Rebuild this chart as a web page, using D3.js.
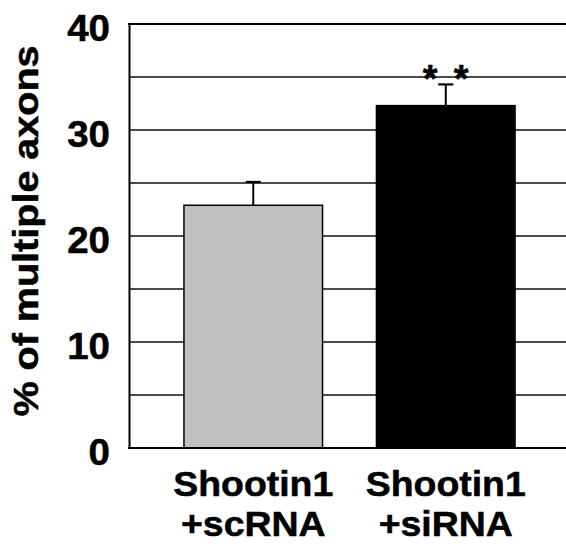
<!DOCTYPE html>
<html>
<head>
<meta charset="utf-8">
<script src="https://cdn.jsdelivr.net/npm/d3@7"></script>
<style>
  body { margin: 0; background: #fff; }
  text { font-family: "Liberation Sans", Arial, sans-serif; font-weight: bold; fill: #000; stroke: #000; stroke-width: 0.5px; }
</style>
</head>
<body>
<div id="chart"></div>
<script>
// data
let groups = ["Shootin1\n+scRNA", "Shootin1\n+siRNA"];
let values = [22.9, 32.3];
let errors = [2.2, 2.0];
let barColors = ["#c0c0c0", "#000000"];
let sigLabels = ["", "* *"];
let yTicks = [0, 10, 20, 30, 40];
let gridTicks = [5, 10, 15, 20, 25, 30, 35];

let width = 566, height = 547;
let margin = {top: 24, right: 0, bottom: 99, left: 129};

let svg = d3.select("#chart").append("svg")
    .attr("width", width)
    .attr("height", height);

let y = d3.scaleLinear()
    .domain([0, 40])
    .range([height - margin.bottom, margin.top]);

let x = d3.scaleBand()
    .domain(groups)
    .range([157, 542])
    .paddingInner(0.28)
    .paddingOuter(0.14);

// gridlines
svg.append("g")
    .selectAll("line")
    .data(gridTicks)
    .enter().append("line")
    .attr("x1", margin.left)
    .attr("x2", width)
    .attr("y1", d => y(d))
    .attr("y2", d => y(d))
    .attr("stroke", "#111")
    .attr("stroke-width", 1.3);

// top line at 40
svg.append("line")
    .attr("x1", margin.left - 1)
    .attr("x2", width)
    .attr("y1", y(40))
    .attr("y2", y(40))
    .attr("stroke", "#000")
    .attr("stroke-width", 2);

// bars
svg.selectAll(".bar")
    .data(values)
    .enter().append("rect")
    .attr("class", "bar")
    .attr("x", (d, i) => x(groups[i]))
    .attr("y", d => y(d))
    .attr("width", x.bandwidth())
    .attr("height", d => y(0) - y(d))
    .attr("fill", (d, i) => barColors[i])
    .attr("stroke", "#000")
    .attr("stroke-width", 1.5);

// error bars (upper only)
let errG = svg.append("g");
values.forEach((v, i) => {
    let cx = x(groups[i]) + x.bandwidth() / 2;
    errG.append("line")
        .attr("x1", cx).attr("x2", cx)
        .attr("y1", y(v)).attr("y2", y(v + errors[i]))
        .attr("stroke", "#000").attr("stroke-width", 2);
    errG.append("line")
        .attr("x1", cx - 7.5).attr("x2", cx + 7.5)
        .attr("y1", y(v + errors[i])).attr("y2", y(v + errors[i]))
        .attr("stroke", "#000").attr("stroke-width", 2.2);
});

// significance stars
sigLabels.forEach((s, i) => {
    if (!s) return;
    let cx = x(groups[i]) + x.bandwidth() / 2;
    s.split(" ").forEach((star, k, arr) => {
        svg.append("text")
            .attr("x", cx + (k - (arr.length - 1) / 2) * 31)
            .attr("y", y(values[i] + errors[i]) + 8)
            .attr("text-anchor", "middle")
            .style("font-size", "38px")
            .text(star);
    });
});

// y axis
let yAxis = svg.append("g")
    .attr("transform", `translate(${margin.left}, 0)`)
    .call(d3.axisLeft(y).tickValues(yTicks).tickSize(0).tickPadding(0));
yAxis.select(".domain")
    .attr("stroke", "#000")
    .attr("stroke-width", 2);
yAxis.selectAll("text")
    .attr("x", 0)
    .attr("dy", null)
    .attr("transform", "translate(-19, 16) scale(1.07, 1)")
    .style("font-size", "36px")
    .style("font-family", "'Liberation Sans', Arial, sans-serif");

// x axis baseline
svg.append("line")
    .attr("x1", margin.left - 1)
    .attr("x2", width)
    .attr("y1", y(0))
    .attr("y2", y(0))
    .attr("stroke", "#000")
    .attr("stroke-width", 2);

// x labels
groups.forEach(g => {
    let cx = x(g) + x.bandwidth() / 2;
    g.split("\n").forEach((line, k) => {
        svg.append("text")
            .attr("transform", `translate(${cx}, ${496 + k * 40}) scale(1.07, 1)`)
            .attr("text-anchor", "middle")
            .style("font-size", "35px")
            .text(line);
    });
});

// y label
svg.append("text")
    .attr("transform", "translate(38, 231) rotate(-90) scale(1.13, 1)")
    .attr("text-anchor", "middle")
    .style("font-size", "35px")
    .text("% of multiple axons");
</script>
</body>
</html>
